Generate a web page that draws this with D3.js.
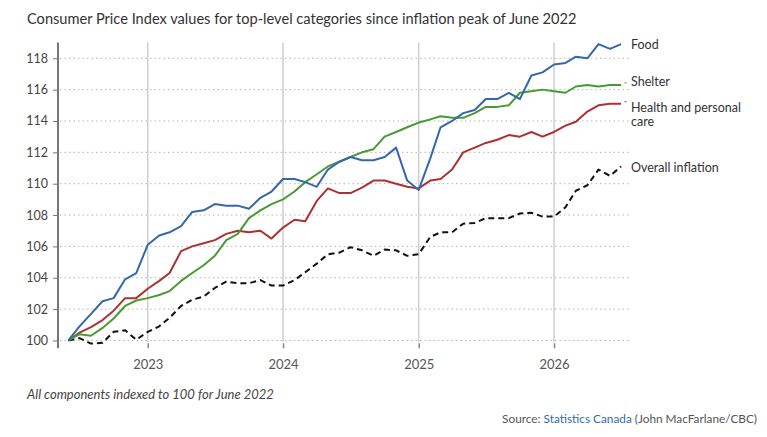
<!DOCTYPE html>
<html>
<head>
<meta charset="utf-8">
<script src="https://cdn.jsdelivr.net/npm/d3@7"></script>
<style>
  body { margin: 0; background: #fff; }
  svg { display: block; font-family: Lato, "Noto Sans", sans-serif; }
</style>
</head>
<body>
<div id="chart"></div>
<script>
// monthly observations, June 2022 .. July 2026
const months = [
  "2022-06","2022-07","2022-08","2022-09","2022-10","2022-11","2022-12",
  "2023-01","2023-02","2023-03","2023-04","2023-05","2023-06","2023-07","2023-08","2023-09","2023-10","2023-11","2023-12",
  "2024-01","2024-02","2024-03","2024-04","2024-05","2024-06","2024-07","2024-08","2024-09","2024-10","2024-11","2024-12",
  "2025-01","2025-02","2025-03","2025-04","2025-05","2025-06","2025-07","2025-08","2025-09","2025-10","2025-11","2025-12",
  "2026-01","2026-02","2026-03","2026-04","2026-05","2026-06","2026-07"
];

const food = [
  100, 100.9, 101.7, 102.5, 102.7, 103.9, 104.3,
  106.1, 106.7, 106.9, 107.3, 108.2, 108.3, 108.7, 108.6, 108.6, 108.4, 109.1, 109.5,
  110.3, 110.3, 110.1, 109.8, 110.9, 111.4, 111.7, 111.5, 111.5, 111.7, 112.3, 110.2,
  109.6, 111.6, 113.6, 114.0, 114.5, 114.7, 115.4, 115.4, 115.8, 115.4, 116.9, 117.1,
  117.6, 117.7, 118.1, 118.0, 118.9, 118.6, 118.9
];
const shelter = [
  100, 100.4, 100.3, 100.8, 101.4, 102.2, 102.55,
  102.7, 102.9, 103.15, 103.8, 104.3, 104.8, 105.4, 106.4, 106.8, 107.8, 108.3, 108.7,
  109.0, 109.5, 110.1, 110.6, 111.1, 111.4, 111.7, 112.0, 112.2, 113.0, 113.3, 113.6,
  113.9, 114.1, 114.3, 114.2, 114.2, 114.5, 114.9, 114.9, 115.0, 115.8, 115.9, 116.0,
  115.9, 115.8, 116.2, 116.3, 116.2, 116.3, 116.3
];
const health = [
  100, 100.5, 100.85, 101.3, 101.9, 102.7, 102.7,
  103.3, 103.8, 104.3, 105.7, 106.0, 106.2, 106.4, 106.8, 107.0, 106.9, 107.0, 106.5,
  107.2, 107.7, 107.6, 108.9, 109.7, 109.4, 109.4, 109.75, 110.2, 110.2, 110.0, 109.8,
  109.7, 110.2, 110.3, 110.9, 112.0, 112.3, 112.6, 112.8, 113.1, 113.0, 113.3, 113.0,
  113.3, 113.7, 113.95, 114.6, 115.0, 115.1, 115.1
];
const overall = [
  100, 100.15, 99.8, 99.85, 100.55, 100.65, 100.05,
  100.55, 100.9, 101.45, 102.2, 102.6, 102.8, 103.35, 103.75, 103.65, 103.65, 103.85, 103.5,
  103.5, 103.85, 104.35, 104.9, 105.5, 105.6, 105.95, 105.75, 105.4, 105.8, 105.75, 105.4,
  105.5, 106.6, 106.9, 106.9, 107.45, 107.5, 107.8, 107.8, 107.8, 108.1, 108.15, 107.9,
  107.9, 108.5, 109.55, 109.9, 110.9, 110.5, 111.1
];

const yTicks = [100, 102, 104, 106, 108, 110, 112, 114, 116, 118];
const yearTicks = ["2023", "2024", "2025", "2026"];

const series = [
  { name: "Food", values: food, color: "#3568a8", dash: null, label: ["Food"], labelY: 118.97 },
  { name: "Shelter", values: shelter, color: "#4a9a33", dash: null, label: ["Shelter"], labelY: 116.63 },
  { name: "Health", values: health, color: "#ad3131", dash: null, label: ["Health and personal", "care"], labelY: 114.93 },
  { name: "Overall", values: overall, color: "#111", dash: "6,4", label: ["Overall inflation"], labelY: 111.15 }
];

const width = 767, height = 437;
const parseMonth = d3.timeParse("%Y-%m");
const dates = months.map(parseMonth);

const x = d3.scaleTime()
  .domain([new Date(2022, 5, 1), new Date(2026, 6, 25)])
  .range([68.4, 630]);
const y = d3.scaleLinear()
  .domain([99.5, 119])
  .range([348.3, 42.6]);

const svg = d3.select("#chart").append("svg")
  .attr("width", width)
  .attr("height", height);

// title
svg.append("text")
  .attr("x", 27).attr("y", 24)
  .attr("fill", "#333")
  .style("font-size", "14.6px")
  .text("Consumer Price Index values for top-level categories since inflation peak of June 2022");

// horizontal dotted grid
svg.append("g")
  .selectAll("line")
  .data(yTicks)
  .join("line")
  .attr("x1", 60).attr("x2", 630)
  .attr("y1", d => y(d)).attr("y2", d => y(d))
  .attr("stroke", "#b5b5b5")
  .attr("stroke-width", 1)
  .attr("stroke-dasharray", "1.5,3");

// vertical year grid
const yearDates = yearTicks.map(d => new Date(+d, 0, 1));
svg.append("g")
  .selectAll("line")
  .data(yearDates)
  .join("line")
  .attr("x1", d => x(d)).attr("x2", d => x(d))
  .attr("y1", y(119)).attr("y2", y(99.5) - 6)
  .attr("stroke", "#cfcfcf")
  .attr("stroke-width", 1.5);

// y axis
const yAxis = d3.axisLeft(y).tickValues(yTicks).tickSize(4).tickPadding(5);
const yAxisG = svg.append("g")
  .attr("transform", "translate(57,0)")
  .call(yAxis);
yAxisG.select(".domain").remove();
yAxisG.selectAll(".tick line").attr("stroke", "#777");
yAxisG.selectAll(".tick text")
  .attr("fill", "#444")
  .style("font-family", "Lato, 'Noto Sans', sans-serif")
  .style("font-size", "12.5px");
svg.append("line")
  .attr("x1", 58).attr("x2", 58)
  .attr("y1", y(119)).attr("y2", y(99.5))
  .attr("stroke", "#777")
  .attr("stroke-width", 2);

// x axis
const xAxis = d3.axisBottom(x).tickValues(yearDates).tickSize(5).tickPadding(11)
  .tickFormat(d3.timeFormat("%Y"));
const xAxisG = svg.append("g")
  .attr("transform", "translate(0," + (y(99.5) - 5) + ")")
  .call(xAxis);
xAxisG.select(".domain").remove();
xAxisG.selectAll(".tick line").attr("stroke", "#888").attr("stroke-width", 1.5);
xAxisG.selectAll(".tick text")
  .attr("fill", "#555")
  .style("font-family", "Lato, 'Noto Sans', sans-serif")
  .style("font-size", "13px");

// lines
const line = d3.line()
  .x((d, i) => x(dates[i]))
  .y(d => y(d));

svg.append("g")
  .selectAll("path")
  .data(series.slice().reverse())
  .join("path")
  .attr("d", d => line(d.values))
  .attr("fill", "none")
  .attr("stroke", d => d.color)
  .attr("stroke-width", 2)
  .attr("stroke-dasharray", d => d.dash)
  .attr("stroke-linejoin", "round");

// end labels
const labels = svg.append("g")
  .selectAll("text")
  .data(series)
  .join("text")
  .attr("x", 631)
  .attr("y", d => y(d.labelY) + 6)
  .attr("fill", "#333")
  .style("font-size", "12.5px");
labels.selectAll("tspan")
  .data(d => d.label)
  .join("tspan")
  .attr("x", 631)
  .attr("dy", (d, i) => i ? 14 : 0)
  .text(d => d);

// tiny leaders for shelter and health
svg.append("g")
  .selectAll("line")
  .data(series.filter(d => d.name === "Shelter" || d.name === "Health"))
  .join("line")
  .attr("x1", 624.5).attr("x2", 626.5)
  .attr("y1", d => y(d.values[d.values.length - 1]) - 2)
  .attr("y2", d => y(d.values[d.values.length - 1]) - 2)
  .attr("stroke", d => d.color)
  .attr("stroke-width", 1);

// footnote
svg.append("text")
  .attr("x", 27).attr("y", 399)
  .attr("fill", "#444")
  .style("font-style", "italic")
  .style("font-size", "13px")
  .text("All components indexed to 100 for June 2022");

// source
const src = svg.append("text")
  .attr("x", 757).attr("y", 423)
  .attr("text-anchor", "end")
  .attr("fill", "#555")
  .style("font-size", "11.8px");
src.append("tspan").text("Source: ");
src.append("tspan").attr("fill", "#2f6db5").text("Statistics Canada");
src.append("tspan").text(" (John MacFarlane/CBC)");
</script>
</body>
</html>
